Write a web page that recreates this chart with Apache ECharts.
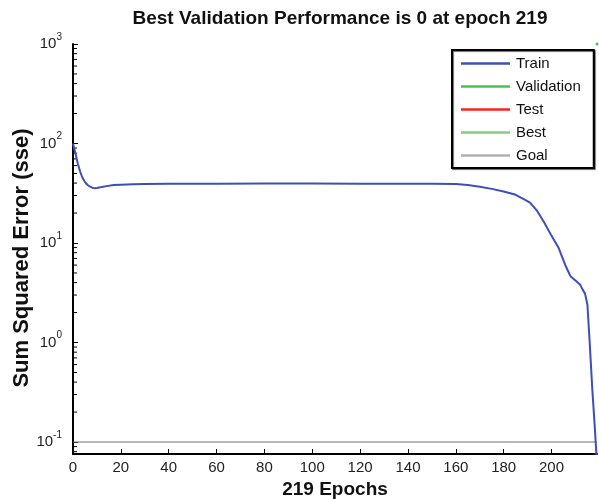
<!DOCTYPE html>
<html>
<head>
<meta charset="utf-8">
<title>Best Validation Performance</title>
<script src="https://cdn.jsdelivr.net/npm/echarts@6/dist/echarts.min.js"></script>
<style>
  html, body { margin: 0; padding: 0; background: #fff; }
  #chart { width: 599px; height: 499px; }
</style>
</head>
<body>
<div id="chart"></div>
<script>
// Training record: epoch number and sum squared error
const epochs = [0, 1, 2, 3, 4, 5, 6, 7, 8, 9, 10, 12, 14, 17, 20, 25, 30, 40, 50, 60, 80, 100, 120, 140, 150, 160,
  165, 170, 175, 180, 185, 188, 191, 194, 197, 200, 203, 206, 208, 210, 212, 213, 214, 215, 216, 217, 218, 219];
const trainSse = [100, 80, 63, 52, 45, 41, 38.5, 37, 36, 35.6, 35.8, 36.5, 37.3, 38.2, 38.6, 39, 39.2, 39.4, 39.5, 39.5, 39.6, 39.6, 39.5, 39.4, 39.3, 39.1,
  38.3, 36.8, 35, 33, 30.5, 28, 25.5, 21, 16, 11.8, 8.9, 5.8, 4.6, 4.2, 3.8, 3.4, 3.1, 2.4, 0.95, 0.35, 0.15, 0.06];

const bestEpoch = 219;
const validationPoint = [[219, 1000]];
const goalValue = 0.1;

const xTicks = [0, 20, 40, 60, 80, 100, 120, 140, 160, 180, 200];
const yMin = 0.0758;
const yMax = 1000;

// Minor log ticks (2..9 of every decade) on the left axis
const minorMultipliers = [2, 3, 4, 5, 6, 7, 8, 9];
const decades = [0.01, 0.1, 1, 10, 100];
const minorTicks = [];
decades.forEach(d => minorMultipliers.forEach(m => {
  const v = +(m * d).toPrecision(3);
  if (v > yMin && v < yMax) minorTicks.push([0, v]);
}));

const FONT = '"Liberation Sans", Arial, Helvetica, sans-serif';

const chart = echarts.init(document.getElementById('chart'), null, { renderer: 'canvas' });

chart.setOption({
  backgroundColor: '#ffffff',
  animation: false,
  title: {
    text: 'Best Validation Performance is ' + 0 + ' at epoch ' + bestEpoch,
    left: 335,
    textAlign: 'center',
    top: 4,
    textStyle: { fontFamily: FONT, fontSize: 19, fontWeight: 'bold', color: '#111' }
  },
  grid: { left: 73, right: 2, top: 44, bottom: 45, containLabel: false, outerBoundsMode: 'none' },
  legend: {
    orient: 'vertical',
    left: 452,
    top: 50,
    padding: [6, 13, 5, 9],
    itemGap: 8,
    itemWidth: 49,
    itemHeight: 2.5,
    backgroundColor: '#fff',
    borderColor: '#000',
    borderWidth: 2,
    shadowColor: 'rgba(0,0,0,0.55)',
    shadowOffsetX: 1,
    shadowOffsetY: 1,
    shadowBlur: 1,
    textStyle: { fontFamily: FONT, fontSize: 15, color: '#111', padding: [0, 0, 0, 1] },
    data: [
      { name: 'Train', icon: 'rect' },
      { name: 'Validation', icon: 'rect' },
      { name: 'Test', icon: 'rect' },
      { name: 'Best', icon: 'rect' },
      { name: 'Goal', icon: 'rect' }
    ]
  },
  xAxis: {
    type: 'value',
    min: 0,
    max: 219,
    interval: 20,
    name: bestEpoch + ' Epochs',
    nameLocation: 'middle',
    nameGap: 26,
    nameMoveOverlap: false,
    nameTextStyle: { fontFamily: FONT, fontSize: 19, fontWeight: 'bold', color: '#111' },
    axisLine: { show: true, lineStyle: { color: '#000', width: 2 } },
    axisTick: { show: true, inside: true, length: 5, lineStyle: { color: '#000', width: 1 } },
    axisLabel: {
      show: true, margin: 6, fontFamily: FONT, fontSize: 15, color: '#222',
      showMaxLabel: false,
      formatter: v => (xTicks.indexOf(v) >= 0 ? String(v) : '')
    },
    splitLine: { show: false }
  },
  yAxis: {
    type: 'log',
    logBase: 10,
    min: yMin,
    max: yMax,
    name: 'Sum Squared Error (sse)',
    nameLocation: 'middle',
    nameGap: 40,
    nameMoveOverlap: false,
    nameTextStyle: { fontFamily: FONT, fontSize: 22, fontWeight: 'bold', color: '#111', padding: [0, 18, 0, 0] },
    axisLine: { show: true, lineStyle: { color: '#000', width: 2 } },
    axisTick: { show: true, inside: true, length: 5, lineStyle: { color: '#000', width: 1 } },
    axisLabel: {
      show: true,
      margin: 11,
      showMinLabel: false,
      formatter: v => {
        const e = Math.round(Math.log10(v));
        if (Math.abs(Math.log10(v) - e) > 1e-6) return '';
        return '{b|10}{e|' + e + '}';
      },
      rich: {
        b: { fontFamily: FONT, fontSize: 15, color: '#222', lineHeight: 24 },
        e: { fontFamily: FONT, fontSize: 10, color: '#222', verticalAlign: 'top', lineHeight: 12 }
      }
    },
    splitLine: { show: false }
  },
  series: [
    {
      name: 'Train',
      type: 'line',
      data: epochs.map((x, i) => [x, trainSse[i]]),
      showSymbol: false,
      symbol: 'none',
      clip: true,
      color: '#3d4fb8',
      lineStyle: { color: '#3d4fb8', width: 2 },
      z: 5
    },
    {
      name: 'Validation',
      type: 'scatter',
      data: validationPoint,
      symbolSize: 3,
      clip: false,
      color: '#22b022',
      itemStyle: { color: '#22b022' },
      z: 6
    },
    {
      name: 'Test',
      type: 'line',
      data: [],
      symbol: 'none',
      color: '#ff2020',
      lineStyle: { color: '#ff2020', width: 2 }
    },
    {
      name: 'Best',
      type: 'line',
      data: [],
      symbol: 'none',
      color: '#7fd07f',
      lineStyle: { color: '#7fd07f', width: 1 }
    },
    {
      name: 'Goal',
      type: 'line',
      data: [[0, goalValue], [219, goalValue]],
      symbol: 'none',
      color: '#b0b0b0',
      lineStyle: { color: '#707070', width: 1 },
      z: 3
    },
    {
      name: 'minorTicks',
      type: 'custom',
      data: minorTicks,
      silent: true,
      clip: false,
      renderItem: (params, api) => {
        const p = api.coord([0, api.value(1)]);
        return {
          type: 'line',
          shape: { x1: p[0], y1: p[1], x2: p[0] + 4, y2: p[1] },
          style: { stroke: '#000', lineWidth: 1 }
        };
      },
      z: 4
    }
  ]
});
</script>
</body>
</html>
